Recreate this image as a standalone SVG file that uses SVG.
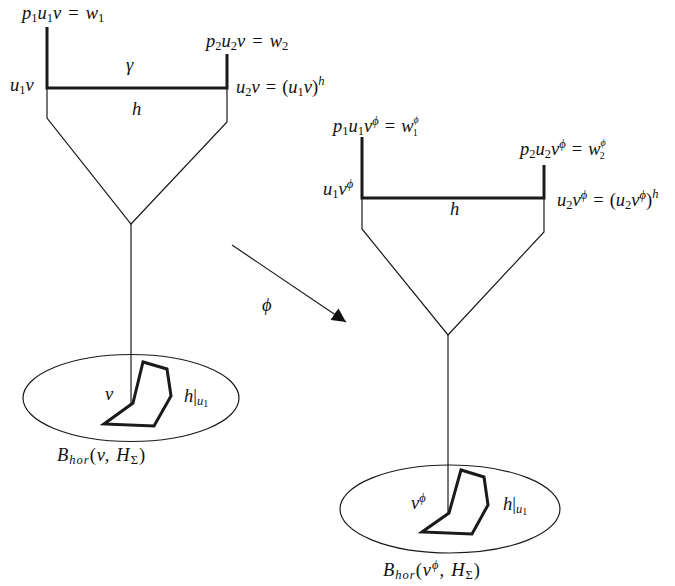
<svg xmlns="http://www.w3.org/2000/svg" width="675" height="586" viewBox="0 0 675 586">
<style>
text{font-family:"Liberation Serif","DejaVu Serif",serif;font-size:18.5px;font-style:italic;fill:#111}
.r{font-style:normal}
.s{font-size:12.5px}
.t{font-size:10px}
.lab{letter-spacing:1px}
.thick{stroke:#1a1a1a;stroke-width:3;fill:none;stroke-linejoin:miter}
.thin{stroke:#1a1a1a;stroke-width:1.2;fill:none}
</style>
<defs>
<marker id="ah" viewBox="0 0 10 10" refX="10" refY="5" markerWidth="14" markerHeight="14" markerUnits="userSpaceOnUse" orient="auto">
<path d="M0,0 L10,5 L0,10 Z" fill="#111"/>
</marker>
</defs>
<g id="left-tree">
<path class="thin" d="M47,88 V118 L131,224 L227,122 V88"/>
<path class="thin" d="M131,224 V404"/>
<path class="thick" d="M47,27 V88 H227 V54"/>
<text x="22" y="19">p<tspan class="s r" dy="3">1</tspan><tspan dy="-3">u</tspan><tspan class="s r" dy="3">1</tspan><tspan dy="-3">v</tspan><tspan class="r" dx="7">=</tspan><tspan dx="7">w</tspan><tspan class="s r" dy="3">1</tspan></text>
<text x="206" y="47">p<tspan class="s r" dy="3">2</tspan><tspan dy="-3">u</tspan><tspan class="s r" dy="3">2</tspan><tspan dy="-3">v</tspan><tspan class="r" dx="7">=</tspan><tspan dx="7">w</tspan><tspan class="s r" dy="3">2</tspan></text>
<text x="126" y="71">γ</text>
<text x="10" y="91">u<tspan class="s r" dy="3">1</tspan><tspan dy="-3">v</tspan></text>
<text x="236" y="93">u<tspan class="s r" dy="3">2</tspan><tspan dy="-3">v</tspan><tspan class="r" dx="6">=</tspan><tspan class="r" dx="6">(</tspan>u<tspan class="s r" dy="3">1</tspan><tspan dy="-3">v</tspan><tspan class="r">)</tspan><tspan class="s" dy="-8">h</tspan></text>
<text x="132" y="115">h</text>
</g>
<g id="left-ball">
<ellipse class="thin" cx="131" cy="398" rx="108" ry="43.5"/>
<path class="thick" d="M133,403 L143,362 L167,369 L171,396 L154,426 L104,424 Z"/>
<text x="105" y="400">v</text>
<text x="184" y="402">h<tspan class="r">|</tspan><tspan class="s" dy="3">u</tspan><tspan class="r t" dy="2">1</tspan></text>
<text class="lab" x="57" y="461">B<tspan class="s" dy="3">hor</tspan><tspan class="r" dy="-3">(</tspan>v,<tspan dx="6">H</tspan><tspan class="s r" dy="3">Σ</tspan><tspan class="r" dy="-3">)</tspan></text>
</g>
<g id="connectors">
<line class="thin" x1="232" y1="245" x2="346" y2="322" marker-end="url(#ah)"/>
<text x="262" y="311">ϕ</text>
</g>
<g id="right-tree">
<path class="thin" d="M362,198 V229 L448,335 L544,232 V198"/>
<path class="thin" d="M448,335 V513"/>
<path class="thick" d="M362,137 V198 H544 V165"/>
<text x="333" y="132">p<tspan class="s r" dy="3">1</tspan><tspan dy="-3">u</tspan><tspan class="s r" dy="3">1</tspan><tspan dy="-3">v</tspan><tspan class="s" dy="-7">ϕ</tspan><tspan class="r" dx="6" dy="7">=</tspan><tspan dx="6">w</tspan><tspan class="t" dy="-9">ϕ</tspan><tspan class="t r" dx="-6" dy="13">1</tspan></text>
<text x="520" y="155">p<tspan class="s r" dy="3">2</tspan><tspan dy="-3">u</tspan><tspan class="s r" dy="3">2</tspan><tspan dy="-3">v</tspan><tspan class="s" dy="-7">ϕ</tspan><tspan class="r" dx="6" dy="7">=</tspan><tspan dx="6">w</tspan><tspan class="t" dy="-9">ϕ</tspan><tspan class="t r" dx="-6" dy="13">2</tspan></text>
<text x="323" y="195">u<tspan class="s r" dy="3">1</tspan><tspan dy="-3">v</tspan><tspan class="s" dy="-7">ϕ</tspan></text>
<text x="557" y="206">u<tspan class="s r" dy="3">2</tspan><tspan dy="-3">v</tspan><tspan class="s" dy="-7">ϕ</tspan><tspan class="r" dx="6" dy="7">=</tspan><tspan class="r" dx="6">(</tspan>u<tspan class="s r" dy="3">2</tspan><tspan dy="-3">v</tspan><tspan class="s" dy="-7">ϕ</tspan><tspan class="r" dy="7">)</tspan><tspan class="s" dy="-8">h</tspan></text>
<text x="450" y="215">h</text>
</g>
<g id="right-ball">
<ellipse class="thin" cx="450" cy="509" rx="110" ry="44"/>
<path class="thick" d="M449,513 L461,470 L484,477 L488,505 L472,534 L422,532 Z"/>
<text x="411" y="509">v<tspan class="s" dy="-7">ϕ</tspan></text>
<text x="503" y="510">h<tspan class="r">|</tspan><tspan class="s" dy="3">u</tspan><tspan class="r t" dy="2">1</tspan></text>
<text class="lab" x="383" y="576">B<tspan class="s" dy="3">hor</tspan><tspan class="r" dy="-3">(</tspan>v<tspan class="s" dy="-7">ϕ</tspan><tspan dy="7">,</tspan><tspan dx="6">H</tspan><tspan class="s r" dy="3">Σ</tspan><tspan class="r" dy="-3">)</tspan></text>
</g>
</svg>
